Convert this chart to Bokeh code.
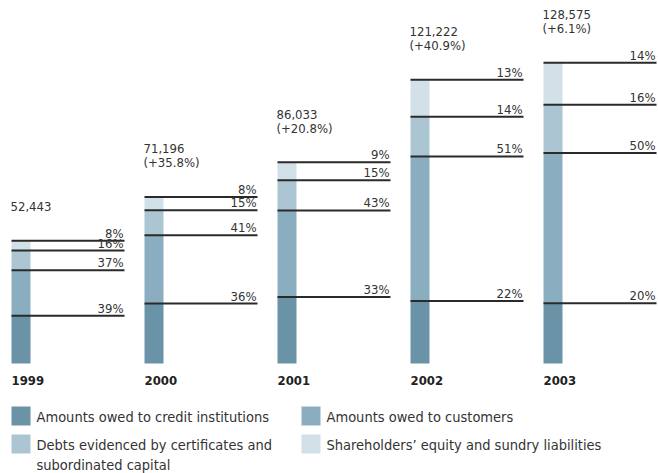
from bokeh.plotting import figure
from bokeh.models import Range1d
from bokeh.core.properties import value
from bokeh.embed import file_html
from bokeh.resources import INLINE

# ---------------- data ----------------
years = ["1999", "2000", "2001", "2002", "2003"]
totals = [52443, 71196, 86033, 121222, 128575]
growth = ["", "(+35.8%)", "(+20.8%)", "(+40.9%)", "(+6.1%)"]
credit_institutions = [39, 36, 33, 22, 20]
customers = [37, 41, 43, 51, 50]
debts_certificates = [16, 15, 15, 14, 16]
equity_sundry = [8, 8, 9, 13, 14]

series_names = [
    "Amounts owed to credit institutions",
    "Amounts owed to customers",
    "Debts evidenced by certificates and\nsubordinated capital",
    "Shareholders\u2019 equity and sundry liabilities",
]
series_values = [credit_institutions, customers, debts_certificates, equity_sundry]
colors = ["#6b93a8", "#8aaebf", "#abc5d2", "#d2e0e8"]

# ---------------- layout ----------------
W, H = 658, 473
BASE_PX = 363            # pixel row of zero line
PX_PER_UNIT = 2.34 / 1000.0
UPP = 1.0 / PX_PER_UNIT  # data units per pixel
BAR_LEFT0 = 11
BAR_STEP = 133
BAR_W = 19
LINE_LEN = 113
FONT = "'DejaVu Sans Condensed', 'Liberation Sans Narrow', sans-serif"
TXT = "#333333"


def py(pix):
    return (BASE_PX - pix) * UPP


p = figure(width=W, height=H, output_backend="svg", toolbar_location=None,
           x_range=Range1d(0, W), y_range=Range1d(py(H), py(0)),
           min_border=0, outline_line_color=None)
p.axis.visible = False
p.grid.visible = False

lefts = [BAR_LEFT0 + BAR_STEP * i for i in range(len(years))]
centers = [l + BAR_W / 2 for l in lefts]

# stacked segments
bottoms = [0.0] * len(years)
seg_x0, seg_x1, seg_y, seg_labels, seg_lx = [], [], [], [], []
for vals, col in zip(series_values, colors):
    tops = [b + t * v / 100.0 for b, t, v in zip(bottoms, totals, vals)]
    p.vbar(x=centers, width=BAR_W, bottom=bottoms, top=tops, color=col, line_color=None)
    for i in range(len(years)):
        seg_x0.append(lefts[i])
        seg_x1.append(lefts[i] + LINE_LEN)
        seg_y.append(tops[i])
        seg_labels.append(f"{vals[i]}%")
        seg_lx.append(lefts[i] + LINE_LEN - 1)
    bottoms = tops

p.segment(x0=seg_x0, x1=seg_x1, y0=seg_y, y1=seg_y,
          line_color="#2a2a2a", line_width=2)
p.text(x=seg_lx, y=seg_y, text=seg_labels, text_align="right",
       text_baseline="bottom", text_font=value(FONT), text_font_size="13px",
       text_color=TXT, y_offset=0)

# totals and growth
line1, line2 = [], []
for t, g in zip(totals, growth):
    if g:
        line1.append(f"{t:,}")
        line2.append(g)
    else:
        line1.append("")
        line2.append(f"{t:,}")
p.text(x=lefts, y=totals, text=line1, text_align="left", text_baseline="middle",
       text_font=value(FONT), text_font_size="13px", text_color=TXT, y_offset=-48, x_offset=-1)
p.text(x=lefts, y=totals, text=line2, text_align="left", text_baseline="middle",
       text_font=value(FONT), text_font_size="13px", text_color=TXT, y_offset=-34, x_offset=-1)

# year labels
p.text(x=lefts, y=[0] * len(years), text=years, text_align="left", text_baseline="middle",
       text_font=value(FONT), text_font_size="13px", text_font_style="bold",
       text_color="#222222", y_offset=17)

# legend (manual, 2 columns)
leg_x = [11, 301, 11, 301]
leg_y = [406, 406, 434, 434]
SQ = 19
for i, (name, col) in enumerate(zip(series_names, colors)):
    x0, y0 = leg_x[i], leg_y[i]
    p.quad(left=x0, right=x0 + SQ, top=py(y0), bottom=py(y0 + SQ), color=col, line_color=None)
    for j, ln in enumerate(name.split("\n")):
        p.text(x=[x0 + SQ + 6], y=[py(y0 + 10 + 20 * j)], text=[ln], text_align="left",
               text_baseline="middle", text_font=value(FONT), text_font_size="14.5px",
               text_color=TXT)

open("out.html", "w").write(file_html(p, INLINE))
